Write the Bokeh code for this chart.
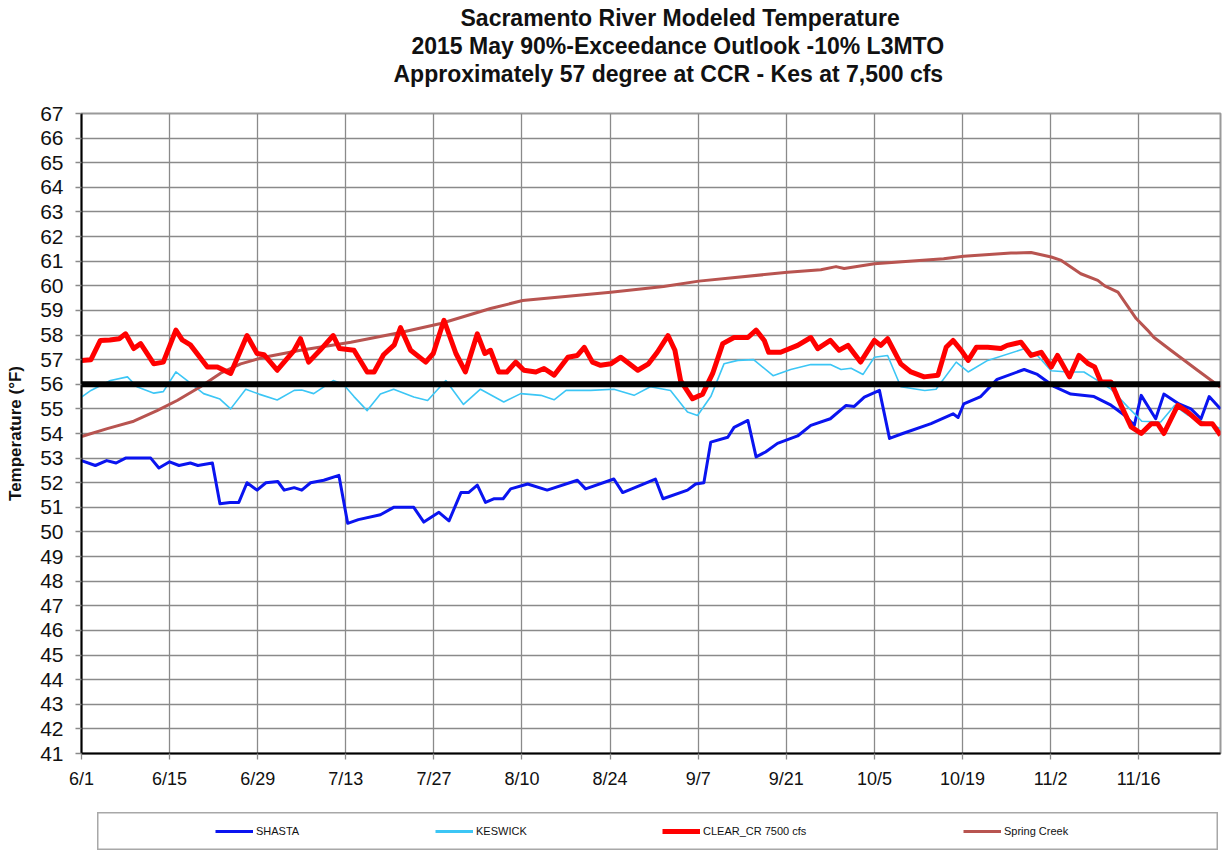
from bokeh.plotting import figure
from bokeh.models import (FixedTicker, Span, Legend, LegendItem, Title, Range1d, Spacer)
from bokeh.layouts import column, row
from bokeh.embed import file_html
from bokeh.resources import INLINE

# ---------------- data ----------------
title_lines = ["Sacramento River Modeled Temperature",
               "2015 May 90%-Exceedance Outlook -10% L3MTO",
               "Approximately 57 degree at CCR - Kes at 7,500 cfs"]
y_label = "Temperature (°F)"

tick_days = [0, 14, 28, 42, 56, 70, 84, 98, 112, 126, 140, 154, 168]
tick_labels = ["6/1", "6/15", "6/29", "7/13", "7/27", "8/10", "8/24", "9/7",
               "9/21", "10/5", "10/19", "11/2", "11/16"]
y_ticks = list(range(41, 68))
threshold = 56

shasta_day = [0, 2.2, 4, 5.5, 7, 11, 12.3, 14, 15.5, 17.3, 18.5, 20.8, 22, 23.6, 25,
              26.3, 27.9, 29.3, 31.2, 32.2, 33.8, 35, 36.4, 38.5, 40.9, 42.3, 44, 47.5,
              49.6, 52.8, 54.4, 56.8, 58.4, 60.3, 61.5, 62.9, 64.2, 65.6, 67, 68.2, 70.9,
              74, 78.8, 80.1, 84.6, 86, 91.2, 92.4, 96.3, 97.6, 98.9, 100, 102.7, 103.7,
              105.9, 107.2, 108.7, 110.6, 113.8, 115.9, 119, 121.5, 122.8, 124.4, 126.8,
              128.4, 130.5, 135, 138.5, 139.3, 140.2, 142.9, 145.5, 149.8, 151.9, 154.6,
              157.2, 160.9, 163.6, 165.7, 167.3, 168.4, 170.7, 172, 174.4, 176.3, 177.9,
              179.2, 181]
shasta_temp = [52.9, 52.7, 52.9, 52.8, 53.0, 53.0, 52.6, 52.85, 52.7, 52.8, 52.7, 52.8,
               51.15, 51.2, 51.2, 52.0, 51.7, 52.0, 52.05, 51.7, 51.8, 51.7, 52.0, 52.1,
               52.3, 50.35, 50.5, 50.7, 51.0, 51.0, 50.4, 50.8, 50.45, 51.6, 51.6, 51.9,
               51.2, 51.35, 51.35, 51.75, 51.95, 51.7, 52.1, 51.75, 52.15, 51.6, 52.15,
               51.35, 51.7, 51.95, 52.0, 53.65, 53.85, 54.25, 54.53, 53.05, 53.25, 53.6,
               53.9, 54.33, 54.6, 55.14, 55.1, 55.48, 55.75, 53.8, 54.0, 54.4, 54.8, 54.65,
               55.2, 55.5, 56.2, 56.6, 56.4, 55.9, 55.6, 55.5, 55.15, 54.75, 54.33, 55.55,
               54.6, 55.6, 55.2, 55.0, 54.6, 55.5, 55.0]

keswick_day = [0, 1.5, 4.6, 7.3, 8.8, 11.5, 13, 15, 16.8, 19.4, 22, 23.7, 26.1, 28.2,
               31.1, 33.8, 35, 36.9, 40, 41.6, 43.3, 45.4, 47.5, 49.6, 52.8, 55, 57.9,
               60.7, 63.4, 67.1, 69.8, 73, 75.1, 77, 80.9, 84.6, 87.8, 90.4, 93.6, 96.3,
               97.9, 100, 102.1, 104.3, 106.8, 109.9, 112.7, 115.9, 119, 120.7, 122.3,
               124.2, 126, 128.1, 130.2, 134, 135.8, 139, 140.9, 144, 149.8, 151.9, 154.1,
               156.8, 159.3, 161.5, 163.6, 166.3, 168.5, 171.5, 173.7, 175.8, 178, 181]
keswick_temp = [55.48, 55.75, 56.15, 56.3, 55.9, 55.64, 55.7, 56.5, 56.15, 55.62, 55.4,
                55.0, 55.8, 55.6, 55.36, 55.75, 55.77, 55.62, 56.15, 56.0, 55.5, 54.93,
                55.6, 55.8, 55.48, 55.34, 56.15, 55.18, 55.8, 55.28, 55.62, 55.55, 55.37,
                55.75, 55.75, 55.8, 55.55, 55.9, 55.75, 54.87, 54.73, 55.5, 56.83, 56.97,
                57.0, 56.35, 56.6, 56.8, 56.8, 56.6, 56.65, 56.4, 57.1, 57.17, 55.9, 55.75,
                55.8, 56.9, 56.5, 56.97, 57.44, 57.17, 56.55, 56.5, 56.5, 56.15, 55.8,
                55.07, 54.5, 54.47, 55.14, 54.75, 54.5, 54.2]

clear_day = [0, 1.5, 3, 4.5, 6, 7, 8.3, 9.4, 11.5, 13, 15, 16, 17.3, 20, 21.6, 23.7,
             26.3, 27.9, 29, 31.1, 33.8, 34.8, 36.1, 37.9, 40, 41, 43.3, 45.4, 46.5, 48,
             49.7, 50.7, 52.3, 54.7, 55.9, 57.6, 59.5, 61, 62.9, 64.1, 65, 66.3, 67.6, 69,
             70.3, 72.2, 73.5, 75.1, 77.3, 78.8, 79.9, 81.2, 82.5, 84.1, 85.7, 88.4, 90.1,
             91.5, 93.2, 94.3, 95.2, 97.1, 98.7, 100.3, 101.9, 103.7, 105.9, 107.2, 108.5,
             109.2, 111.1, 113.8, 115.9, 117, 119, 120.4, 121.8, 123.8, 126, 127, 128.1,
             130.2, 131.8, 133.9, 136.1, 137.4, 138.5, 139.8, 140.9, 142.2, 144, 146.1,
             147.1, 149.3, 150.9, 152.5, 154.1, 155.1, 157, 158.5, 160, 161, 162, 163.6,
             165.2, 166.8, 168.4, 170, 171, 172, 174.2, 175.8, 177.9, 179.7, 181]
clear_temp = [56.97, 57.0, 57.78, 57.8, 57.85, 58.05, 57.45, 57.65, 56.83, 56.9, 58.2,
              57.8, 57.6, 56.7, 56.7, 56.44, 57.98, 57.25, 57.2, 56.57, 57.38, 57.85, 56.9,
              57.38, 57.98, 57.45, 57.38, 56.5, 56.5, 57.2, 57.6, 58.3, 57.38, 56.9, 57.25,
              58.6, 57.25, 56.5, 58.05, 57.25, 57.38, 56.5, 56.5, 56.9, 56.57, 56.5, 56.64,
              56.37, 57.1, 57.17, 57.5, 56.9, 56.77, 56.83, 57.1, 56.57, 56.83, 57.3, 57.98,
              57.38, 56.15, 55.41, 55.6, 56.44, 57.65, 57.9, 57.9, 58.2, 57.78, 57.3, 57.3,
              57.58, 57.9, 57.45, 57.78, 57.38, 57.58, 56.9, 57.78, 57.58, 57.85, 56.83,
              56.5, 56.3, 56.37, 57.5, 57.78, 57.38, 56.97, 57.5, 57.5, 57.45, 57.58, 57.71,
              57.17, 57.3, 56.7, 57.17, 56.3, 57.17, 56.83, 56.7, 56.09, 56.09, 55.14, 54.27,
              54.0, 54.4, 54.4, 54.0, 55.14, 54.87, 54.4, 54.4, 53.93]

spring_day = [0, 4.1, 8.3, 12, 15.2, 18.9, 22.1, 25.3, 29, 34.8, 42.8, 50.7, 57.1, 65,
              70.1, 84.1, 92.5, 98.1, 112.2, 117.5, 119.9, 121.2, 126, 137, 140.2, 147.7,
              150.9, 154.1, 155.7, 158.8, 161.5, 162.6, 164.7, 167.6, 169.4, 170.4, 173.1,
              177.4, 181]
spring_temp = [53.88, 54.2, 54.5, 54.93, 55.34, 55.9, 56.45, 56.83, 57.1, 57.38, 57.71,
               58.1, 58.47, 59.08, 59.4, 59.74, 59.97, 60.19, 60.55, 60.65, 60.78, 60.7,
               60.9, 61.1, 61.2, 61.33, 61.35, 61.17, 61.03, 60.49, 60.22, 60.0, 59.74,
               58.67, 58.2, 57.91, 57.38, 56.56, 55.88]

series_names = ["SHASTA", "KESWICK", "CLEAR_CR 7500 cfs", "Spring Creek"]
series_colors = ["#0a14f0", "#3cc6f5", "#ff0000", "#b85450"]
series_widths = [3, 1.6, 5, 3]
series_x = [shasta_day, keswick_day, clear_day, spring_day]
series_y = [shasta_temp, keswick_temp, clear_temp, spring_temp]

# ---------------- main figure ----------------
FONT = "Liberation Sans"
p = figure(width=1224, height=812, output_backend="svg", toolbar_location=None,
           x_range=Range1d(0, 181), y_range=Range1d(41, 67),
           min_border_left=81, min_border_right=4, min_border_top=113,
           min_border_bottom=59)
p.outline_line_color = "#9a9a9a"
p.outline_line_width = 2

p.xgrid.ticker = FixedTicker(ticks=tick_days)
p.ygrid.ticker = FixedTicker(ticks=y_ticks)
for g in (p.xgrid, p.ygrid):
    g.grid_line_color = "#8a8a8a"
    g.grid_line_width = 1.3

p.xaxis.ticker = FixedTicker(ticks=tick_days)
p.xaxis.major_label_overrides = {d: l for d, l in zip(tick_days, tick_labels)}
p.yaxis.ticker = FixedTicker(ticks=y_ticks)
for ax in (p.xaxis, p.yaxis):
    ax.axis_line_color = "black"
    ax.axis_line_width = 2
    ax.major_tick_out = 6
    ax.major_tick_in = 0
    ax.major_tick_line_color = "#8a8a8a"
    ax.major_tick_line_width = 1.3
    ax.minor_tick_line_color = None
    ax.major_label_text_font = FONT
    ax.major_label_text_color = "#111111"
p.xaxis.major_label_text_font_size = "18px"
p.xaxis.major_label_standoff = 9
p.yaxis.major_label_text_font_size = "21px"
p.yaxis.major_label_standoff = 12
p.yaxis.axis_label = y_label
p.yaxis.axis_label_text_font = FONT
p.yaxis.axis_label_text_font_size = "17px"
p.yaxis.axis_label_text_font_style = "bold"
p.yaxis.axis_label_standoff = 12
p.yaxis.axis_label_text_color = "#111111"

draw_order = [0, 1, 3, 2]
for i in draw_order:
    p.line(series_x[i], series_y[i], line_color=series_colors[i],
           line_width=series_widths[i], line_join="round")

p.add_layout(Span(location=threshold, dimension="width", line_color="black",
                  line_width=6))

# titles: first added sits closest to the plot; a blank spacer title keeps the gap
p.add_layout(Title(text=" ", standoff=0, text_font=FONT, text_font_size="22px"),
             "above")
for txt, off in zip(reversed(title_lines), [312, 330, 379]):
    p.add_layout(Title(text=txt, align="left", offset=off, standoff=0,
                       text_font=FONT, text_font_size="23px",
                       text_font_style="bold", text_color="#111111"), "above")

# ---------------- legend strip ----------------
lf = figure(width=1121, height=38, output_backend="svg", toolbar_location=None,
            x_range=Range1d(1000, 1001), y_range=Range1d(1000, 1001),
            x_axis_type=None, y_axis_type=None,
            min_border_left=0, min_border_right=0, min_border_top=0,
            min_border_bottom=0)
lf.outline_line_color = "#a8a8a8"
lf.outline_line_width = 2
lf.xgrid.visible = False
lf.ygrid.visible = False

for i, xpos in zip(range(4), [118, 338, 565, 866]):
    # same series, outside this strip's visible range: only the legend swatch shows
    rend = lf.line(series_x[i], series_y[i], line_color=series_colors[i],
                   line_width=max(series_widths[i], 3))
    lg = Legend(items=[LegendItem(label=series_names[i], renderers=[rend])],
                location=(xpos, 12), padding=0, margin=0, glyph_width=38,
                glyph_height=14, label_height=14, label_standoff=3,
                border_line_alpha=0, background_fill_alpha=0,
                label_text_font=FONT, label_text_font_size="11px",
                label_text_color="#111111")
    lf.add_layout(lg)

layout = column(p, row(Spacer(width=97, height=38), lf))

open("out.html", "w").write(file_html(layout, INLINE))
